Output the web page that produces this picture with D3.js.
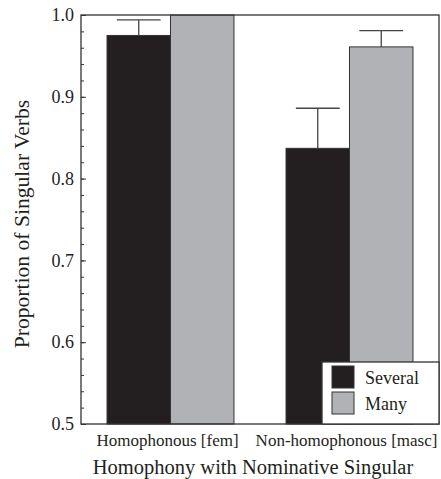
<!DOCTYPE html>
<html>
<head>
<meta charset="utf-8">
<script src="https://d3js.org/d3.v7.min.js"></script>
<style>
  body { margin: 0; background: #fff; }
  svg text { font-family: 'Liberation Serif', 'Times New Roman', Times, 'DejaVu Serif', serif !important; }
</style>
</head>
<body>
<div id="chart"></div>
<script>
// values
const categories = ["Homophonous [fem]", "Non-homophonous [masc]"];
const series = ["Several", "Many"];
const several = [0.975, 0.837];
const many = [1.0, 0.961];
const severalErr = [0.019, 0.049];
const manyErr = [0, 0.020];
const yTicks = [0.5, 0.6, 0.7, 0.8, 0.9, 1.0];
const yMinorTicks = d3.range(50, 101, 2).map(d => d / 100);

const colors = { Several: "#231f20", Many: "#b1b2b6" };

var width = 441, height = 479;
var margin = { top: 15, right: 2, bottom: 55, left: 81 };

var rows = [];
categories.forEach((c, i) => {
  rows.push({ cat: c, series: "Several", value: several[i], err: severalErr[i] });
  rows.push({ cat: c, series: "Many", value: many[i], err: manyErr[i] });
});

var svg = d3.select("#chart").append("svg")
    .attr("width", width)
    .attr("height", height);

var x0 = d3.scaleBand().domain(categories)
    .range([margin.left, width - margin.right]).padding(0);
var x1 = d3.scaleBand().domain(series)
    .range([0, x0.bandwidth()]).paddingInner(0).paddingOuter(0.41);
var y = d3.scaleLinear().domain([0.5, 1.0])
    .range([height - margin.bottom, margin.top]);

// bars
svg.selectAll(".bar")
    .data(rows)
  .enter().append("rect")
    .attr("class", "bar")
    .attr("x", d => x0(d.cat) + x1(d.series))
    .attr("y", d => y(d.value))
    .attr("width", x1.bandwidth())
    .attr("height", d => y(0.5) - y(d.value))
    .attr("fill", d => colors[d.series])
    .attr("stroke", "#333")
    .attr("stroke-width", 1);

// error bars (upper only)
var capW = x1.bandwidth() * 0.69;
var errs = svg.selectAll(".err")
    .data(rows.filter(d => d.err > 0))
  .enter().append("g")
    .attr("class", "err")
    .attr("stroke", "#444")
    .attr("stroke-width", 1.3);
errs.append("line")
    .attr("x1", d => x0(d.cat) + x1(d.series) + x1.bandwidth() / 2)
    .attr("x2", d => x0(d.cat) + x1(d.series) + x1.bandwidth() / 2)
    .attr("y1", d => y(d.value))
    .attr("y2", d => y(d.value + d.err));
errs.append("line")
    .attr("x1", d => x0(d.cat) + x1(d.series) + x1.bandwidth() / 2 - capW / 2)
    .attr("x2", d => x0(d.cat) + x1(d.series) + x1.bandwidth() / 2 + capW / 2)
    .attr("y1", d => y(d.value + d.err))
    .attr("y2", d => y(d.value + d.err));

// frame
svg.append("rect")
    .attr("x", margin.left)
    .attr("y", margin.top)
    .attr("width", width - margin.left - margin.right)
    .attr("height", y(0.5) - margin.top)
    .attr("fill", "none")
    .attr("stroke", "#333")
    .attr("stroke-width", 1.3);

// y axis ticks, pointing inward
var yAxisMinor = svg.append("g")
    .attr("transform", "translate(" + margin.left + ",0)")
    .call(d3.axisRight(y).tickValues(yMinorTicks).tickSize(3).tickFormat(""));
yAxisMinor.select(".domain").remove();
yAxisMinor.selectAll("line").attr("stroke", "#333");

var yAxis = svg.append("g")
    .attr("transform", "translate(" + margin.left + ",0)")
    .call(d3.axisRight(y).tickValues(yTicks).tickSize(5).tickFormat(d3.format(".1f")));
yAxis.select(".domain").remove();
yAxis.selectAll("line").attr("stroke", "#333");
yAxis.selectAll("text")
    .attr("x", -7)
    .attr("text-anchor", "end")
    .attr("fill", "#231f20")
    .style("font-size", "18px");

// category labels
svg.append("g").selectAll("text")
    .data(categories)
  .enter().append("text")
    .attr("x", d => x0(d) + x0.bandwidth() / 2 - 3)
    .attr("y", y(0.5) + 22)
    .attr("text-anchor", "middle")
    .attr("fill", "#231f20")
    .style("font-size", "17px")
    .text(d => d);

// axis titles
svg.append("text")
    .attr("x", (margin.left + width - margin.right) / 2 - 7)
    .attr("y", height - 5)
    .attr("text-anchor", "middle")
    .attr("fill", "#231f20")
    .style("font-size", "20.5px")
    .text("Homophony with Nominative Singular");

svg.append("text")
    .attr("transform", "translate(29," + 224 + ") rotate(-90)")
    .attr("text-anchor", "middle")
    .attr("fill", "#231f20")
    .style("font-size", "21.6px")
    .text("Proportion of Singular Verbs");

// legend
var legend = svg.append("g")
    .attr("transform", "translate(322," + (y(0.5) - 62) + ")");
legend.append("rect")
    .attr("width", width - margin.right - 322)
    .attr("height", 62)
    .attr("fill", "#fff")
    .attr("stroke", "#333")
    .attr("stroke-width", 1.3);
var li = legend.selectAll(".li")
    .data(series)
  .enter().append("g")
    .attr("class", "li")
    .attr("transform", (d, i) => "translate(10," + (4 + i * 26) + ")");
li.append("rect")
    .attr("width", 22)
    .attr("height", 22)
    .attr("fill", d => colors[d])
    .attr("stroke", "#333")
    .attr("stroke-width", 1);
li.append("text")
    .attr("x", 33)
    .attr("y", 17.5)
    .attr("fill", "#231f20")
    .style("font-size", "18px")
    .text(d => d);
</script>
</body>
</html>
